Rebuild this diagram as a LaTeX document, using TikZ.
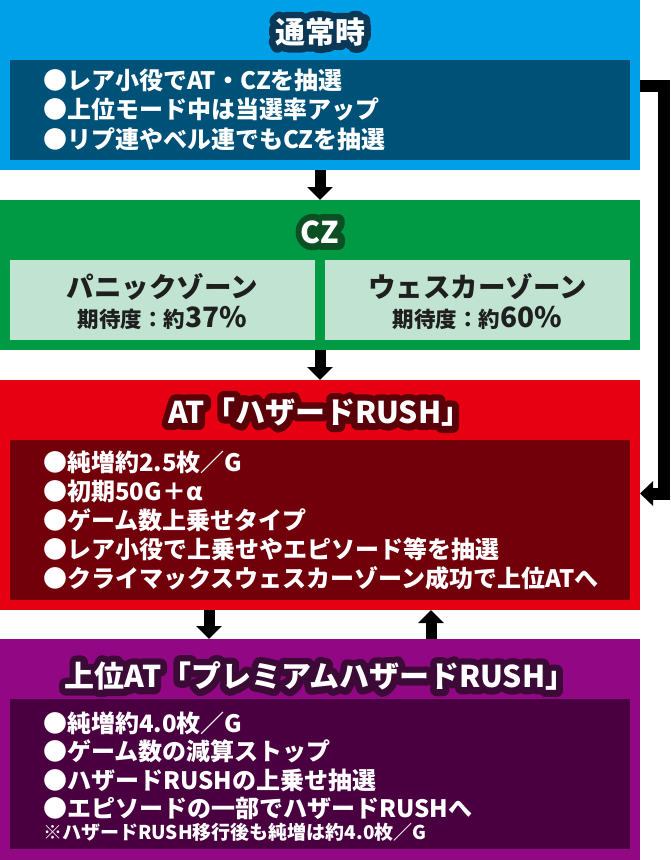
\documentclass[tikz,border=0pt]{standalone}
\usepackage{fontspec}
\setmainfont{Noto Sans CJK JP}
\newfontfamily\ttledge{Noto Sans CJK JP}[BoldFeatures={FakeBold=45}]
\usetikzlibrary{arrows.meta}

\definecolor{nrmOut}{HTML}{00A0E9}
\definecolor{nrmIn}{HTML}{005177}
\definecolor{nrmEdge}{HTML}{0B3856}
\definecolor{czOut}{HTML}{009A44}
\definecolor{czIn}{HTML}{C0E4D1}
\definecolor{czEdge}{HTML}{0B4F22}
\definecolor{atOut}{HTML}{E60012}
\definecolor{atIn}{HTML}{72000A}
\definecolor{atEdge}{HTML}{5A0008}
\definecolor{upOut}{HTML}{920783}
\definecolor{upIn}{HTML}{4A0040}
\definecolor{upEdge}{HTML}{3C0A36}

% white title with a dark rim
\newcommand\edged[2]{\special{pdf:code 1 j 1 J}\rlap{\color{#1}\ttledge\bfseries #2}#2}

\tikzset{
  panel/.style={rectangle, inner sep=0pt, outer sep=0pt, anchor=north west},
  ttl/.style={text=white, inner sep=0pt, font=\bfseries\fontsize{30}{31}\selectfont},
  item/.style={text=white, anchor=west, inner sep=0pt, font=\bfseries\fontsize{24}{26}\selectfont},
  zone/.style={text=black!88, inner sep=0pt, font=\bfseries\fontsize{27.5}{28}\selectfont},
  rate/.style={text=black!88, inner sep=0pt, font=\bfseries\fontsize{21.5}{22}\selectfont},
  flow/.style={line width=11pt, -{Triangle[width=25pt,length=13pt]}},
}

\begin{document}
\begin{tikzpicture}[x=1pt, y=-1pt]
    \useasboundingbox (0,0) rectangle (670,860);
    % normal state
    \node[panel, fill=nrmOut, minimum width=640pt, minimum height=170pt] (nrm) at (0,0) {};
    \node[panel, fill=nrmIn, minimum width=620pt, minimum height=100pt] (nrmBox) at (10,60) {};
    \node[ttl] (nrmTtl) at (320,32) {\edged{nrmEdge}{通常時}};
    \foreach \txt [count=\i] in {●レア小役でAT・CZを抽選, ●上位モード中は当選率アップ, ●リプ連やベル連でもCZを抽選}
    \node[item] (nrm\i) at (43,{50.5+29.5*\i}) {\txt};
    % CZ
    \node[panel, fill=czOut, minimum width=640pt, minimum height=150pt] (cz) at (0,200) {};
    \node[ttl] (czTtl) at (320,232) {\edged{czEdge}{CZ}};
    \node[panel, fill=czIn, minimum width=305pt, minimum height=80pt] (pnc) at (10,260) {};
    \node[panel, fill=czIn, minimum width=305pt, minimum height=80pt] (wsk) at (325,260) {};
    \node[zone] (pncName) at (162.5,287) {パニックゾーン};
    \node[rate] (pncRate) at (162.5,318) {期待度：約{\fontsize{28}{28}\selectfont 37\%}};
    \node[zone] (wskName) at (477.5,287) {ウェスカーゾーン};
    \node[rate] (wskRate) at (477.5,318) {期待度：約{\fontsize{28}{28}\selectfont 60\%}};
    % AT
    \node[panel, fill=atOut, minimum width=640pt, minimum height=230pt] (at) at (0,380) {};
    \node[panel, fill=atIn, minimum width=620pt, minimum height=160pt] (atBox) at (10,440) {};
    \node[ttl] (atTtl) at (320,412) {\edged{atEdge}{AT「ハザードRUSH」}};
    \foreach \txt [count=\i] in {●純増約2.5枚／G, ●初期50G＋α, ●ゲーム数上乗せタイプ, ●レア小役で上乗せやエピソード等を抽選, ●クライマックスウェスカーゾーン成功で上位ATへ}
    \node[item] (at\i) at (43,{433+29*\i}) {\txt};
    % upper AT
    \node[panel, fill=upOut, minimum width=640pt, minimum height=221pt] (up) at (0,639) {};
    \node[panel, fill=upIn, minimum width=620pt, minimum height=150pt] (upBox) at (10,699) {};
    \node[ttl] (upTtl) at (320,676) {\edged{upEdge}{上位AT「プレミアムハザードRUSH」}};
    \foreach \txt [count=\i] in {●純増約4.0枚／G, ●ゲーム数の減算ストップ, ●ハザードRUSHの上乗せ抽選, ●エピソードの一部でハザードRUSHへ}
    \node[item] (up\i) at (43,{694.5+28.5*\i}) {\txt};
    \node[item, font=\bfseries\fontsize{19}{20}\selectfont] (upNote) at (43,832) {※ハザードRUSH移行後も純増は約4.0枚／G};
    % arrows
    \draw[flow] (nrm.south) -- (cz.north);
    \draw[flow] (cz.south) -- (at.north);
    \draw[flow] ([xshift=-111pt]at.south) -- ([xshift=-111pt]up.north);
    \draw[flow] ([xshift=111pt]up.north) -- ([xshift=111pt]at.south);
    \coordinate (loopTop) at (664,85.5);
    \coordinate (loopBot) at (664,493.5);
    \draw[flow, line width=12pt, line join=miter, -{Triangle[width=24pt,length=13pt]}] (nrm.east |- loopTop) -- (loopTop) -- (loopBot) -- (at.east |- loopBot);
\end{tikzpicture}
\end{document}
